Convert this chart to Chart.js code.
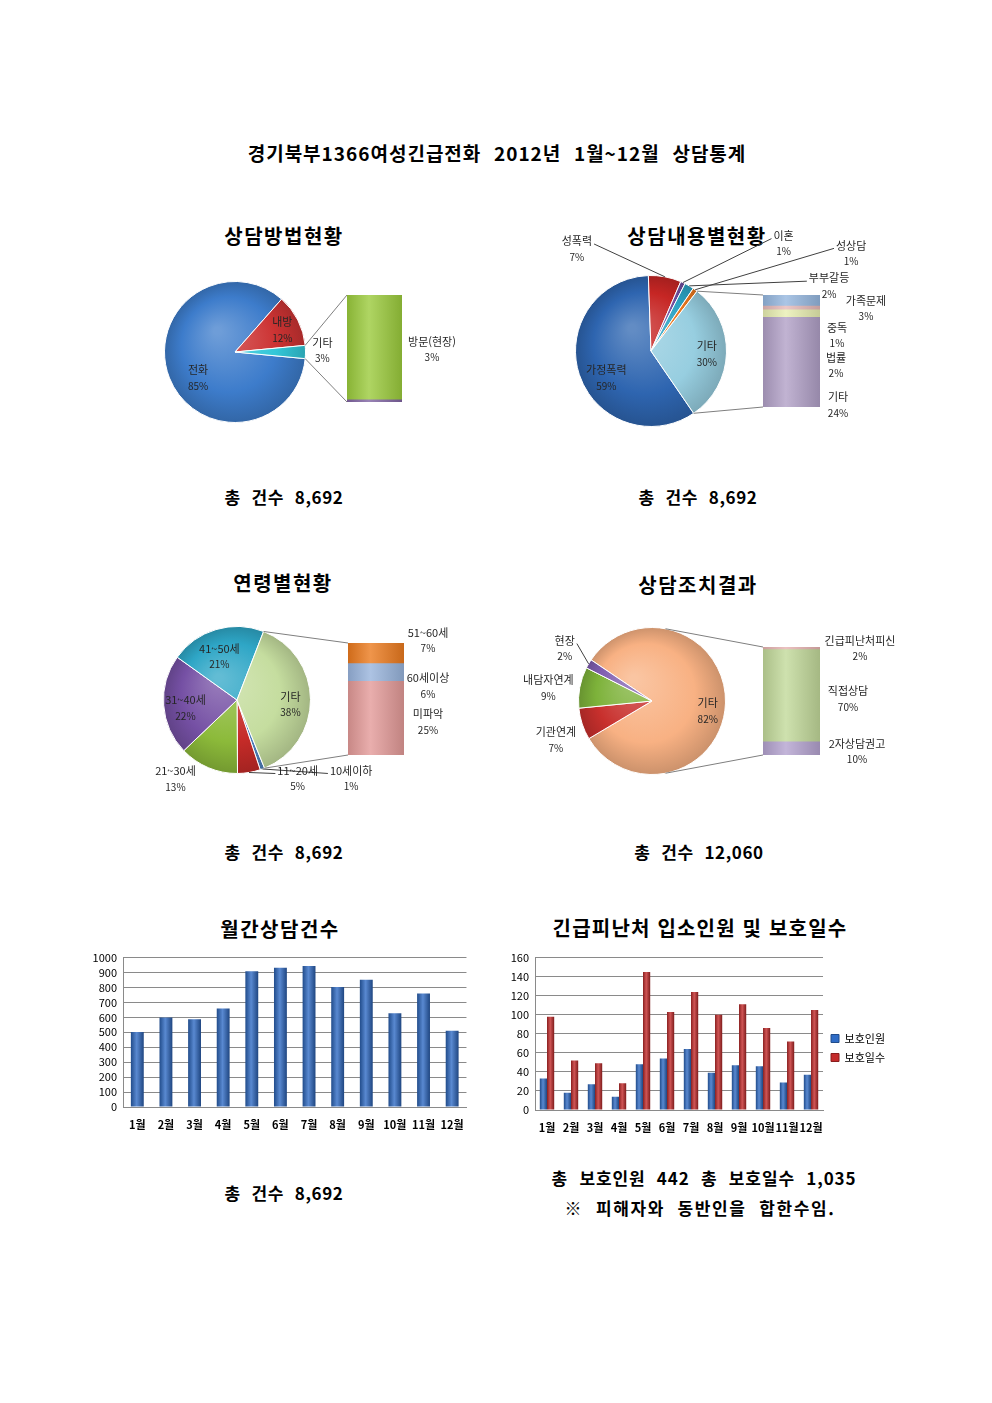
<!DOCTYPE html>
<html lang="ko">
<head>
<meta charset="utf-8">
<title>경기북부1366여성긴급전화 2012년 상담통계</title>
<script src="https://cdn.jsdelivr.net/npm/chart.js@4.4.0/dist/chart.umd.min.js"></script>
<style>
  html, body { margin: 0; padding: 0; background: #fff; }
  #page { position: relative; width: 992px; height: 1403px; overflow: hidden; font-family: 'Noto Sans CJK KR', sans-serif; }
  .t { position: absolute; transform: translate(-50%, -50%); white-space: pre; font-weight: bold; color: #000; line-height: 1.2; }
  canvas { position: absolute; }
</style>
</head>
<body>
<div id="page">
  <div class="t" style="left:497px;top:153px;font-size:19px;letter-spacing:1px">경기북부1366여성긴급전화  2012년  1월~12월  상담통계</div>

  <div class="t" style="left:284px;top:236px;font-size:20px;letter-spacing:1.5px">상담방법현황</div>
  <div class="t" style="left:697px;top:236px;font-size:20px;letter-spacing:1.5px">상담내용별현황</div>
  <div class="t" style="left:284px;top:497px;font-size:17px;letter-spacing:0.6px">총  건수  8,692</div>
  <div class="t" style="left:698px;top:497px;font-size:17px;letter-spacing:0.6px">총  건수  8,692</div>

  <div class="t" style="left:283px;top:583px;font-size:20px;letter-spacing:1.5px">연령별현황</div>
  <div class="t" style="left:698px;top:585px;font-size:20px;letter-spacing:1.5px">상담조치결과</div>
  <div class="t" style="left:284px;top:852px;font-size:17px;letter-spacing:0.6px">총  건수  8,692</div>
  <div class="t" style="left:699px;top:852px;font-size:17px;letter-spacing:0.6px">총  건수  12,060</div>

  <div class="t" style="left:280px;top:929px;font-size:20px;letter-spacing:1.5px">월간상담건수</div>
  <div class="t" style="left:700px;top:928px;font-size:20px;letter-spacing:1.2px">긴급피난처 입소인원 및 보호일수</div>
  <div class="t" style="left:284px;top:1193px;font-size:17px;letter-spacing:0.6px">총  건수  8,692</div>
  <div class="t" style="left:704px;top:1178px;font-size:17px;letter-spacing:0.9px">총  보호인원  442  총  보호일수  1,035</div>
  <div class="t" style="left:700px;top:1208px;font-size:17px;letter-spacing:1.6px">※  피해자와  동반인을  합한수임.</div>

  <canvas id="pie1" width="350" height="190" style="left:130px;top:250px"></canvas>
  <canvas id="pie2" width="440" height="215" style="left:540px;top:225px"></canvas>
  <canvas id="pie3" width="330" height="185" style="left:140px;top:615px"></canvas>
  <canvas id="pie4" width="470" height="175" style="left:510px;top:615px"></canvas>

  <canvas id="bar1" width="130" height="127" style="left:347px;top:285px"></canvas>
  <canvas id="bar2" width="150" height="140" style="left:763px;top:285px"></canvas>
  <canvas id="bar3" width="115" height="145" style="left:348px;top:620px"></canvas>
  <canvas id="bar4" width="145" height="145" style="left:763px;top:630px"></canvas>

  <canvas id="monthly" width="390" height="195" style="left:85px;top:945px"></canvas>
  <canvas id="shelter" width="400" height="195" style="left:495px;top:945px"></canvas>
</div>
<script>
// 상담방법현황 (%)
const methodLabels = ['전화', '내방', '기타'];
const methodValues = [85, 12, 3];
const methodSubLabels = ['', '방문(현장)'];        // bottom -> top
const methodSubValues = [0.06, 3];

// 상담내용별현황 (%)
const contentLabels = ['가정폭력', '성폭력', '이혼', '부부갈등', '성상담', '기타'];
const contentValues = [59, 7, 1, 2, 1, 30];
const contentSubLabels = ['기타', '법률', '중독', '가족문제'];
const contentSubValues = [24, 2, 1, 3];

// 연령별현황 (%)
const ageLabels = ['10세이하', '11~20세', '21~30세', '31~40세', '41~50세', '기타'];
const ageValues = [1, 5, 13, 22, 21, 38];
const ageSubLabels = ['미파악', '60세이상', '51~60세'];
const ageSubValues = [25, 6, 7];

// 상담조치결과 (%)
const actionLabels = ['기타', '기관연계', '내담자연계', '현장'];
const actionValues = [82, 7, 9, 2];
const actionSubLabels = ['2자상담권고', '직접상담', '긴급피난처피신'];
const actionSubValues = [10, 70, 2];

// 월간상담건수
const months = ['1월', '2월', '3월', '4월', '5월', '6월', '7월', '8월', '9월', '10월', '11월', '12월'];
const monthlyCounts = [502, 599, 587, 660, 908, 932, 943, 803, 851, 627, 759, 511];

// 긴급피난처 입소인원 및 보호일수
const shelterSeries = ['보호인원', '보호일수'];
const shelterPeople = [33, 18, 27, 14, 48, 54, 64, 39, 47, 46, 29, 37];
const shelterDays = [98, 52, 49, 28, 145, 103, 124, 100, 111, 86, 72, 105];

Chart.defaults.font.family = "'Noto Sans CJK KR', sans-serif";
Chart.defaults.color = '#000';

function mix(hex, toWhite, t) {
  const n = parseInt(hex.slice(1), 16);
  const c = [n >> 16, (n >> 8) & 255, n & 255];
  const target = toWhite ? 255 : 0;
  const f = v => Math.round(v + (target - v) * t);
  return `rgb(${f(c[0])},${f(c[1])},${f(c[2])})`;
}
const light = (h, t) => mix(h, true, t);
const dark = (h, t) => mix(h, false, t);

function pieFill(colors) {
  return ctx => {
    const base = colors[ctx.dataIndex];
    const a = ctx.chart.chartArea;
    if (!a) return base;
    const cx = (a.left + a.right) / 2, cy = (a.top + a.bottom) / 2;
    const r = Math.min(a.right - a.left, a.bottom - a.top) / 2;
    const g = ctx.chart.ctx.createRadialGradient(cx - r * 0.25, cy - r * 0.3, r * 0.05, cx, cy, r);
    g.addColorStop(0, light(base, 0.25));
    g.addColorStop(0.65, base);
    g.addColorStop(1, dark(base, 0.18));
    return g;
  };
}

// stacked side bar fills the chart area, shade it left to right
function stackFill(colors) {
  return ctx => {
    const base = colors[ctx.datasetIndex];
    const a = ctx.chart.chartArea;
    if (!a) return base;
    const g = ctx.chart.ctx.createLinearGradient(a.left, 0, a.right, 0);
    g.addColorStop(0, dark(base, 0.12));
    g.addColorStop(0.4, light(base, 0.2));
    g.addColorStop(1, dark(base, 0.15));
    return g;
  };
}

// cylinder look for the column charts (needs a second update so the element has x/width)
function columnFill(color) {
  return ctx => {
    const el = ctx.element;
    if (!el || !el.width) return color;
    const g = ctx.chart.ctx.createLinearGradient(el.x - el.width / 2, 0, el.x + el.width / 2, 0);
    g.addColorStop(0, dark(color, 0.3));
    g.addColorStop(0.45, light(color, 0.2));
    g.addColorStop(1, dark(color, 0.35));
    return g;
  };
}

function twoLines(ctx, name, pct, x, y) {
  ctx.fillStyle = '#262626';
  ctx.textAlign = 'center';
  ctx.textBaseline = 'middle';
  ctx.font = "11px 'Noto Sans CJK KR'";
  ctx.fillText(name, x, y - 8);
  ctx.font = "10px 'Noto Sans CJK KR'";
  ctx.fillText(pct, x, y + 8);
}

const links = {};

const pieExtras = {
  id: 'pieExtras',
  afterDraw(chart, args, opts) {
    const ctx = chart.ctx;
    const meta = chart.getDatasetMeta(0);
    const values = chart.data.datasets[0].data;
    ctx.save();
    const link = links[chart.canvas.id];
    if (link) {
      const bar = link.bar;
      const ox = bar.canvas.offsetLeft - chart.canvas.offsetLeft;
      const oy = bar.canvas.offsetTop - chart.canvas.offsetTop;
      let left = Infinity, top = Infinity, bottom = -Infinity;
      bar.data.datasets.forEach((ds, i) => {
        const el = bar.getDatasetMeta(i).data[0];
        left = Math.min(left, el.x - el.width / 2);
        top = Math.min(top, el.y, el.base);
        bottom = Math.max(bottom, el.y, el.base);
      });
      const arc = meta.data[link.other];
      const cx = arc.x, cy = arc.y, r = arc.outerRadius;
      const corners = [[left + ox, top + oy, arc.startAngle, -1], [left + ox, bottom + oy, arc.endAngle, 1]];
      ctx.strokeStyle = '#7f7f7f';
      ctx.lineWidth = 1;
      corners.forEach(([px, py, ang, side]) => {
        let bx = cx + Math.cos(ang) * r, by = cy + Math.sin(ang) * r;
        if ((bx - cx) * (px - bx) + (by - cy) * (py - by) < 0) {
          // slice edge faces away, use the tangent point instead
          const d = Math.hypot(px - cx, py - cy);
          const t = Math.atan2(py - cy, px - cx) + side * Math.acos(r / d);
          bx = cx + Math.cos(t) * r;
          by = cy + Math.sin(t) * r;
        }
        ctx.beginPath();
        ctx.moveTo(bx, by);
        ctx.lineTo(px, py);
        ctx.stroke();
      });
    }
    meta.data.forEach((arc, i) => {
      const p = opts.places[i];
      if (!p) return;
      const a = p.a * Math.PI / 180;
      const lx = arc.x + Math.sin(a) * arc.outerRadius * p.f;
      const ly = arc.y - Math.cos(a) * arc.outerRadius * p.f;
      const name = chart.data.labels[i];
      twoLines(ctx, name, values[i] + '%', lx, ly);
      if (p.line) {
        const mid = (arc.startAngle + arc.endAngle) / 2;
        const ex = arc.x + Math.cos(mid) * arc.outerRadius;
        const ey = arc.y + Math.sin(mid) * arc.outerRadius;
        ctx.font = "11px 'Noto Sans CJK KR'";
        const w = ctx.measureText(name).width;
        const sx = ex > lx ? lx + w / 2 + 2 : lx - w / 2 - 2;
        ctx.strokeStyle = '#404040';
        ctx.lineWidth = 1;
        ctx.beginPath();
        ctx.moveTo(sx, ly - 5);
        ctx.lineTo(ex, ey);
        ctx.stroke();
      }
    });
    ctx.restore();
  }
};

const barLabels = {
  id: 'barLabels',
  afterDraw(chart, args, opts) {
    const ctx = chart.ctx;
    ctx.save();
    chart.data.datasets.forEach((ds, i) => {
      const p = opts.places[i];
      if (!p || !ds.label) return;
      const el = chart.getDatasetMeta(i).data[0];
      twoLines(ctx, ds.label, ds.data[0] + '%', el.x + el.width / 2 + p.dx, (el.y + el.base) / 2 + p.dy);
    });
    ctx.restore();
  }
};

function makeStack(id, labels, values, colors, padding, places) {
  const total = values.reduce((s, v) => s + v, 0);
  return new Chart(document.getElementById(id), {
    type: 'bar',
    data: {
      labels: [''],
      datasets: labels.map((label, i) => ({
        label: label,
        data: [values[i]],
        backgroundColor: stackFill(colors),
        borderWidth: 0,
        barPercentage: 1,
        categoryPercentage: 1
      }))
    },
    options: {
      responsive: false,
      animation: false,
      layout: { padding: padding },
      plugins: { legend: { display: false }, tooltip: { enabled: false }, barLabels: { places: places } },
      scales: {
        x: { display: false, stacked: true },
        y: { display: false, stacked: true, min: 0, max: total }
      }
    },
    plugins: [barLabels]
  });
}

function makePie(id, labels, values, colors, rotation, padding, places) {
  return new Chart(document.getElementById(id), {
    type: 'pie',
    data: {
      labels: labels,
      datasets: [{ data: values, backgroundColor: pieFill(colors), borderColor: '#ffffff', borderWidth: 1 }]
    },
    options: {
      responsive: false,
      animation: false,
      rotation: rotation,
      layout: { padding: padding },
      plugins: { legend: { display: false }, tooltip: { enabled: false }, pieExtras: { places: places } }
    },
    plugins: [pieExtras]
  });
}

// side bars first, the pies draw the connector lines to them
const bar1 = makeStack('bar1', methodSubLabels, methodSubValues, ['#8064A2', '#9BCB3C'],
  { left: 0, top: 10, right: 75, bottom: 10 }, [null, { dx: 30, dy: 2 }]);
const bar2 = makeStack('bar2', contentSubLabels, contentSubValues, ['#B1A0C7', '#E9EFB2', '#E6B9B8', '#95B7DF'],
  { left: 0, top: 10, right: 93, bottom: 18 },
  [{ dx: 18, dy: 43 }, { dx: 16, dy: 52 }, { dx: 17, dy: 27.5 }, { dx: 46, dy: 8 }]);
const bar3 = makeStack('bar3', ageSubLabels, ageSubValues, ['#E39A98', '#98B4DC', '#EB7A1E'],
  { left: 0, top: 23, right: 59, bottom: 10 },
  [{ dx: 24, dy: 4 }, { dx: 24, dy: 13.5 }, { dx: 24, dy: -13 }]);
const bar4 = makeStack('bar4', actionSubLabels, actionSubValues, ['#B4A2CF', '#C2D99A', '#E6B3B1'],
  { left: 0, top: 17, right: 88, bottom: 20 },
  [{ dx: 37, dy: 3 }, { dx: 28, dy: 3 }, { dx: 40, dy: 0 }]);

links.pie1 = { bar: bar1, other: 2 };
links.pie2 = { bar: bar2, other: 5 };
links.pie3 = { bar: bar3, other: 5 };
links.pie4 = { bar: bar4, other: 0 };

makePie('pie1', methodLabels, methodValues, ['#3D7CCB', '#CC3333', '#33C7D8'], 95.4,
  { left: 34, top: 31, right: 174, bottom: 17 },
  [{ a: 235, f: 0.64 }, { a: 65, f: 0.74 }, { a: 89, f: 1.24 }]);
makePie('pie2', contentLabels, contentValues, ['#2E65B0', '#C62624', '#6F4E9E', '#2BA3C4', '#E9771E', '#97CEE0'], 145.6,
  { left: 35, top: 50, right: 253, bottom: 13 },
  [{ a: 239, f: 0.69 }, { a: 324, f: 1.67, line: true }, { a: 51, f: 2.26, line: true },
   { a: 70, f: 2.51, line: true }, { a: 64, f: 2.95, line: true }, { a: 93, f: 0.74 }]);
makePie('pie3', ageLabels, ageValues, ['#4F81BD', '#C52B28', '#8CBA3A', '#7550A4', '#2EA6C6', '#C5DD9F'], 158,
  { left: 23, top: 11, right: 159, bottom: 26 },
  [{ a: 124.5, f: 1.885, line: true }, { a: 142.3, f: 1.35, line: true }, { a: 218, f: 1.36 },
   { a: 261, f: 0.71 }, { a: 338, f: 0.64 }, { a: 95, f: 0.73 }]);
makePie('pie4', actionLabels, actionValues, ['#F8B183', '#C8302D', '#7DB23A', '#7F5DB0'], 304,
  { left: 68, top: 12, right: 254, bottom: 15 },
  [{ a: 100, f: 0.77 }, { a: 248, f: 1.41 }, { a: 277, f: 1.42 }, { a: 301, f: 1.385, line: true }]);

const gridColor = '#8a8a8a';
const tickFont = { size: 11 };
const monthFont = { size: 11, weight: 'bold' };
const columnBlue = '#2F6CC6';
const columnRed = '#C42B2B';

const monthly = new Chart(document.getElementById('monthly'), {
  type: 'bar',
  data: {
    labels: months,
    datasets: [{ data: monthlyCounts, backgroundColor: columnFill(columnBlue), borderWidth: 0, barPercentage: 0.45, categoryPercentage: 1 }]
  },
  options: {
    responsive: false,
    animation: false,
    layout: { padding: { top: 10, right: 7, left: 0, bottom: 0 } },
    plugins: { legend: { display: false }, tooltip: { enabled: false } },
    scales: {
      x: {
        grid: { display: false, drawTicks: false },
        border: { color: gridColor },
        ticks: { font: monthFont, padding: 11, autoSkip: false, maxRotation: 0, minRotation: 0 },
        afterFit: s => { s.height = 33; }
      },
      y: {
        min: 0, max: 1000,
        grid: { color: gridColor, drawTicks: false },
        border: { color: gridColor },
        ticks: { stepSize: 100, font: tickFont, padding: 6, autoSkip: false, callback: v => String(v) },
        afterFit: s => { s.width = 38; }
      }
    }
  }
});
monthly.update();

const shelterColors = [columnBlue, columnRed];
const shelter = new Chart(document.getElementById('shelter'), {
  type: 'bar',
  data: {
    labels: months,
    datasets: [
      { label: shelterSeries[0], data: shelterPeople, backgroundColor: columnFill(shelterColors[0]), borderWidth: 0, barPercentage: 1, categoryPercentage: 0.6 },
      { label: shelterSeries[1], data: shelterDays, backgroundColor: columnFill(shelterColors[1]), borderWidth: 0, barPercentage: 1, categoryPercentage: 0.6 }
    ]
  },
  options: {
    responsive: false,
    animation: false,
    layout: { padding: { top: 11, right: 0, left: 0, bottom: 0 } },
    plugins: {
      tooltip: { enabled: false },
      legend: {
        position: 'right',
        labels: {
          boxWidth: 8, boxHeight: 8, padding: 8, font: { size: 11 }, color: '#000',
          generateLabels: chart => chart.data.datasets.map((ds, i) => ({
            text: ds.label, fillStyle: shelterColors[i], strokeStyle: dark(shelterColors[i], 0.3),
            lineWidth: 1, datasetIndex: i, hidden: false
          }))
        }
      }
    },
    scales: {
      x: {
        grid: { display: false, drawTicks: false },
        border: { color: gridColor },
        ticks: { font: monthFont, padding: 11, autoSkip: false, maxRotation: 0, minRotation: 0 },
        afterFit: s => { s.height = 30; }
      },
      y: {
        min: 0, max: 160,
        grid: { color: gridColor, drawTicks: false },
        border: { color: gridColor },
        ticks: { stepSize: 20, font: tickFont, padding: 6, autoSkip: false },
        afterFit: s => { s.width = 40; }
      }
    }
  }
});
shelter.update();
</script>
</body>
</html>
